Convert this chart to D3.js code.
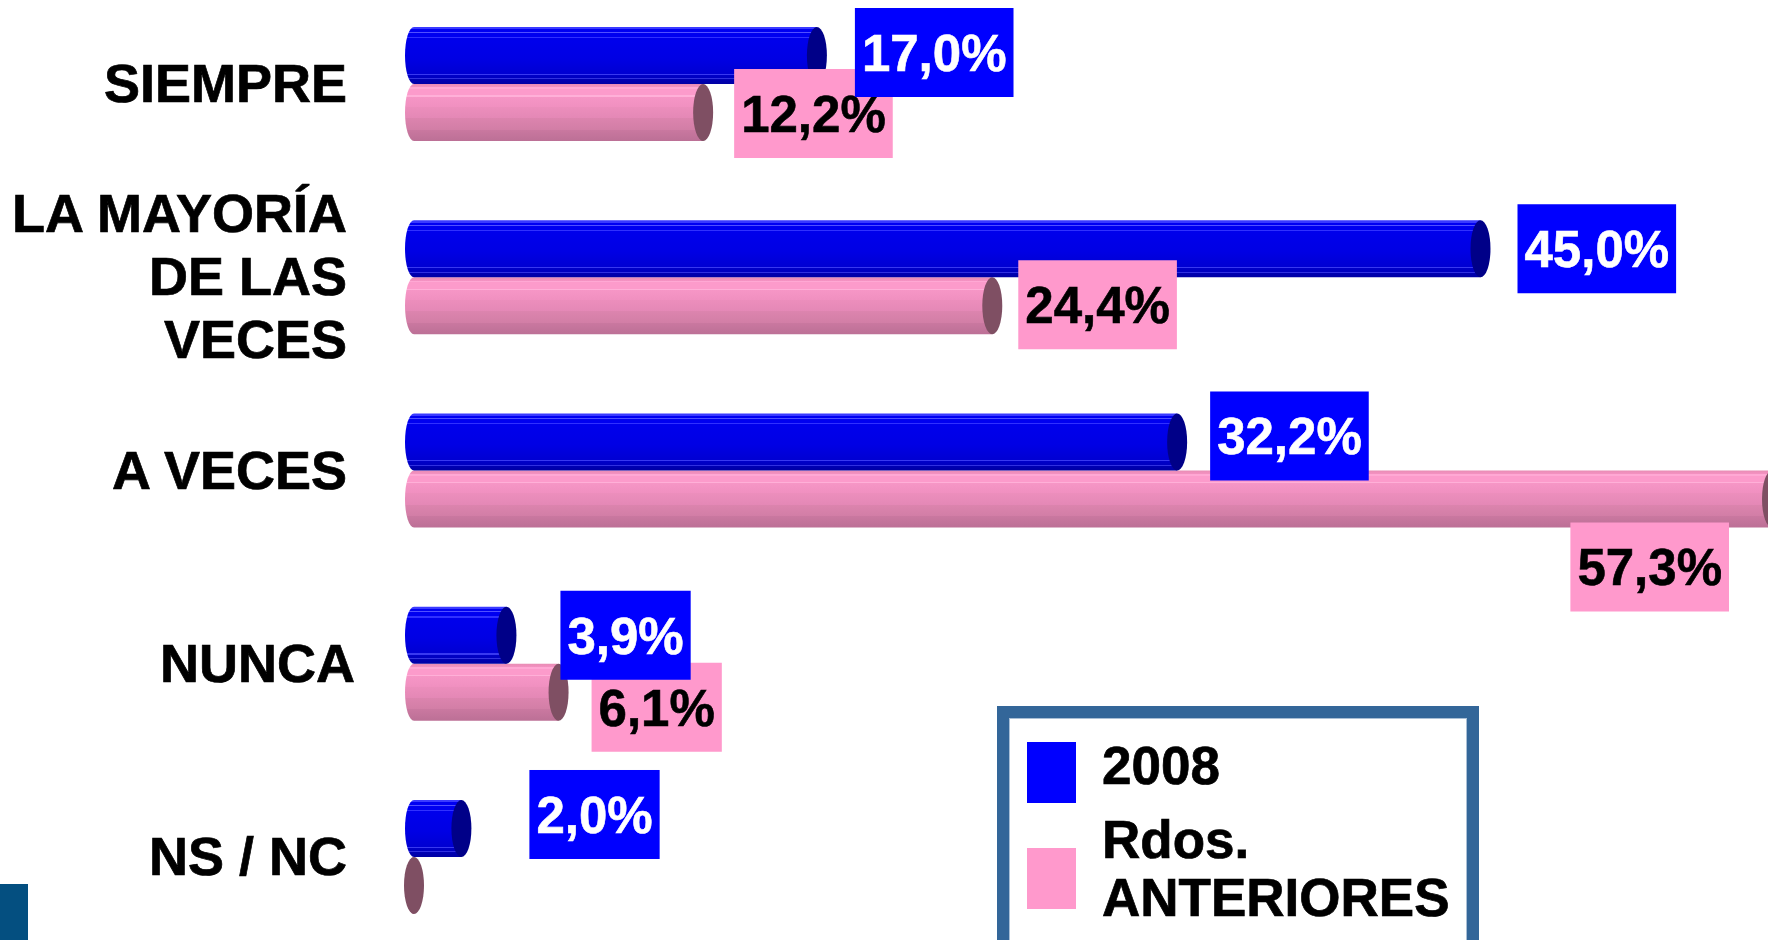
<!DOCTYPE html>
<html>
<head>
<meta charset="utf-8">
<script src="https://cdn.jsdelivr.net/npm/d3@7/dist/d3.min.js"></script>
<style>
    body { margin: 0; background: #fff; }
    svg { display: block; font-family: "Liberation Sans", Arial, sans-serif; font-weight: bold; }
</style>
</head>
<body>
<div id="chart"></div>
<script>
// Data
const categories = ["SIEMPRE", "LA MAYORÍA DE LAS VECES", "A VECES", "NUNCA", "NS / NC"];
const categoryLines = [["SIEMPRE"], ["LA MAYORÍA", "DE LAS", "VECES"], ["A VECES"], ["NUNCA"], ["NS / NC"]];
const seriesNames = ["2008", "Rdos. ANTERIORES"];
const values2008 = [17.0, 45.0, 32.2, 3.9, 2.0];
const valuesPrev = [12.2, 24.4, 57.3, 6.1, 0];
const showPrevLabel = [true, true, true, true, false];

// Hand-placed label nudges from the original slide (layout only)
const nudge2008 = [[5, -3], [4, 0], [0, -6], [21, 0], [35, -14]];
const nudgePrev = [[-2, 1], [-7, -1], [0, 0], [0, 15], [0, 0]];

const W = 1768, H = 940;
const svg = d3.select('#chart').append('svg')
    .attr('width', W)
    .attr('height', H);

const x = d3.scaleLinear().domain([0, 60]).range([414, 414 + 60 * 23.7]);
const y = d3.scaleBand().domain(categories).range([27, 914]).paddingInner(0.41).paddingOuter(0);
const ySub = d3.scaleBand().domain(seriesNames).range([0, y.bandwidth()]);

const styles = {
    "2008": { cap: '#000088', box: '#0000ff', text: '#ffffff', grad: 'gradBlue' },
    "Rdos. ANTERIORES": { cap: '#7f4f63', box: '#ff99cc', text: '#000000', grad: 'gradPink' }
};

// Striped gradients to fake the 3D cylinders
const defs = svg.append('defs');
function addGradient(id, stops) {
    const g = defs.append('linearGradient').attr('id', id)
        .attr('x1', 0).attr('y1', 0).attr('x2', 0).attr('y2', 1);
    stops.forEach(s => g.append('stop').attr('offset', s[0]).attr('stop-color', s[1]));
}
addGradient('gradBlue', [
    [0, '#3a3aff'], [0.04, '#3a3aff'], [0.04, '#0000f2'], [0.08, '#0000f2'],
    [0.08, '#5050ff'], [0.1, '#5050ff'], [0.1, '#0000f0'], [0.17, '#0000f0'],
    [0.17, '#3030ff'], [0.19, '#3030ff'], [0.19, '#0000ec'], [0.55, '#0000e4'],
    [0.82, '#0000d2'], [0.82, '#3838f0'], [0.84, '#3838f0'], [0.84, '#0000c8'],
    [0.9, '#0000c0'], [0.9, '#3030e0'], [0.92, '#3030e0'], [0.92, '#0000b4'], [1, '#0000a4']
]);
addGradient('gradPink', [
    [0, '#e88cb4'], [0.06, '#f492c2'], [0.06, '#ffa8d4'], [0.09, '#ffa8d4'],
    [0.09, '#fc9bcb'], [0.2, '#fc9bcb'], [0.2, '#ffb0d8'], [0.22, '#ffb0d8'],
    [0.22, '#f696c6'], [0.4, '#f090c0'], [0.4, '#ec8ebc'], [0.6, '#e488b6'],
    [0.6, '#dc84ae'], [0.8, '#d27ea6'], [0.8, '#ca78a0'], [1, '#bc7096']
]);

const rows = [];
categories.forEach((c, i) => {
    rows.push({ cat: c, series: seriesNames[1], value: valuesPrev[i], show: showPrevLabel[i], nudge: nudgePrev[i] });
    rows.push({ cat: c, series: seriesNames[0], value: values2008[i], show: true, nudge: nudge2008[i] });
});

const capRx = 10, leftRx = 9;

// Bars
const bars = svg.append('g').selectAll('g.bar')
    .data(rows)
    .join('g')
    .attr('class', 'bar');

bars.append('path')
    .attr('fill', d => `url(#${styles[d.series].grad})`)
    .attr('d', d => {
        const top = y(d.cat) + ySub(d.series);
        const h = ySub.bandwidth();
        const x0 = x(0), x1 = x(d.value);
        return `M${x0},${top} L${x1},${top} L${x1},${top + h} L${x0},${top + h} ` +
            `A${leftRx},${h / 2} 0 0 1 ${x0},${top} Z`;
    });

bars.append('ellipse')
    .attr('cx', d => x(d.value))
    .attr('cy', d => y(d.cat) + ySub(d.series) + ySub.bandwidth() / 2)
    .attr('rx', capRx)
    .attr('ry', ySub.bandwidth() / 2)
    .attr('fill', d => styles[d.series].cap);

// Category labels
const catNudge = { "NUNCA": 8 };
const catG = svg.append('g');
categories.forEach((c, i) => {
    const lines = categoryLines[i];
    const cy = y(c) + y.bandwidth() / 2;
    const t = catG.append('text')
        .attr('text-anchor', 'end')
        .attr('font-size', 54)
        .attr('fill', '#000')
        .attr('stroke', '#000')
        .attr('stroke-width', 0.7);
    lines.forEach((ln, j) => {
        t.append('tspan')
            .attr('x', 347 + (catNudge[c] || 0))
            .attr('y', cy + 18 + (j - (lines.length - 1) / 2) * 63)
            .text(ln);
    });
});

// Value labels (pink first so blue boxes sit on top)
const fmt = v => d3.format('.1f')(v).replace('.', ',') + '%';
const labelG = svg.append('g');
const boxH = 89, fs = 51;
rows.filter(d => d.show).forEach(d => {
    const st = styles[d.series];
    const g = labelG.append('g');
    const rect = g.append('rect').attr('fill', st.box);
    const txt = g.append('text')
        .attr('font-size', fs)
        .attr('fill', st.text)
        .attr('stroke', st.text)
        .attr('stroke-width', 0.6)
        .text(fmt(d.value));
    const tw = txt.node().getComputedTextLength();
    const bw = tw + 14;
    const top = y(d.cat) + ySub(d.series);
    const barMid = top + ySub.bandwidth() / 2;
    let bx = x(d.value) + 33 + d.nudge[0];
    let by = barMid - boxH / 2 + d.nudge[1];
    if (bx + bw > W - 30) {
        // no room at the end of the bar: tuck it under the bar
        bx = W - 39 - bw;
        by = top + ySub.bandwidth() - 5;
    }
    rect.attr('x', bx).attr('y', by).attr('width', bw).attr('height', boxH);
    txt.attr('x', bx + 7).attr('y', by + boxH / 2 + fs * 0.36);
});

// Legend
const legend = svg.append('g');
legend.append('rect')
    .attr('x', 1003).attr('y', 712)
    .attr('width', 470).attr('height', 300)
    .attr('fill', '#fff')
    .attr('stroke', '#336699')
    .attr('stroke-width', 12);
legend.append('rect')
    .attr('x', 1009.5).attr('y', 718.5)
    .attr('width', 457).attr('height', 300)
    .attr('fill', 'none')
    .attr('stroke', '#a9bfd6')
    .attr('stroke-width', 1);

const legendItems = [
    { name: seriesNames[0], lines: ["2008"], sy: 742, baselines: [784] },
    { name: seriesNames[1], lines: ["Rdos.", "ANTERIORES"], sy: 848, baselines: [858, 916] }
];
legendItems.forEach(item => {
    legend.append('rect')
        .attr('x', 1027).attr('y', item.sy)
        .attr('width', 49).attr('height', 61)
        .attr('fill', styles[item.name].box);
    item.lines.forEach((ln, j) => {
        legend.append('text')
            .attr('x', 1102).attr('y', item.baselines[j])
            .attr('font-size', 53)
            .attr('fill', '#000')
            .attr('stroke', '#000')
            .attr('stroke-width', 0.7)
            .text(ln);
    });
});

// Slide corner decoration
svg.append('rect')
    .attr('x', 0).attr('y', 884)
    .attr('width', 28).attr('height', H - 884)
    .attr('fill', '#044f80');
</script>
</body>
</html>
